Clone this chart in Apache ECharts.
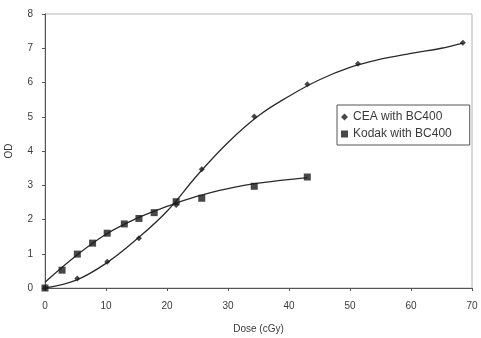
<!DOCTYPE html>
<html>
<head>
<meta charset="utf-8">
<script src="https://cdn.jsdelivr.net/npm/echarts@6/dist/echarts.min.js"></script>
<style>
  html, body { margin: 0; padding: 0; background: #fff; }
  #chart { width: 481px; height: 338px; }
</style>
</head>
<body>
<div id="chart"></div>
<script>
// measured points
const ceaDose = [0, 5.3, 10.2, 15.4, 21.5, 25.7, 34.3, 43, 51.3, 68.5];
const ceaOD = [0, 0.28, 0.77, 1.45, 2.42, 3.47, 5.01, 5.95, 6.55, 7.16];
const kodakDose = [0, 2.8, 5.3, 7.8, 10.2, 13, 15.4, 17.9, 21.5, 25.7, 34.3, 43];
const kodakOD = [0, 0.52, 0.99, 1.31, 1.6, 1.87, 2.03, 2.2, 2.52, 2.62, 2.97, 3.24];

// fitted curves
const ceaFitDose = [0, 5, 10, 15, 20, 25, 30, 35, 40, 45, 50, 55, 60, 65, 68.5];
const ceaFitOD = [0, 0.22, 0.72, 1.42, 2.24, 3.3, 4.25, 5.03, 5.6, 6.08, 6.44, 6.68, 6.85, 7.0, 7.15];
const kodakFitDose = [0, 5, 10, 15, 20, 25, 30, 35, 43];
const kodakFitOD = [0.17, 0.93, 1.57, 2.03, 2.38, 2.68, 2.9, 3.06, 3.22];

const xTicks = [0, 10, 20, 30, 40, 50, 60, 70];
const yTicks = [0, 1, 2, 3, 4, 5, 6, 7, 8];

const pairs = (xs, ys) => xs.map((x, i) => [x, ys[i]]);
const ink = '#1a1a1a';
const textCol = '#3a3a3a';

const chart = echarts.init(document.getElementById('chart'));
chart.setOption({
    animation: false,
    textStyle: { fontFamily: 'Liberation Sans, Arial, sans-serif' },
    grid: {
        left: 45, right: 9, top: 14, bottom: 50,
        outerBoundsMode: 'none',
        show: true, borderColor: '#b5b5b5', borderWidth: 1
    },
    xAxis: {
        type: 'value', min: 0, max: 70, interval: 10,
        name: 'Dose (cGy)', nameLocation: 'middle', nameGap: 36,
        nameTextStyle: { color: textCol, fontSize: 10 },
        axisLine: { lineStyle: { color: '#555', width: 1 } },
        axisTick: { show: true, length: 3, lineStyle: { color: '#555' } },
        axisLabel: { color: textCol, fontSize: 10, margin: 13,
            formatter: v => xTicks.includes(v) ? String(v) : '' },
        splitLine: { show: false }
    },
    yAxis: {
        type: 'value', min: 0, max: 8, interval: 1,
        name: 'OD', nameLocation: 'middle', nameGap: 31, nameRotate: 90,
        nameTextStyle: { color: textCol, fontSize: 10 },
        axisLine: { show: true, lineStyle: { color: '#555', width: 1 } },
        axisTick: { show: true, length: 3, lineStyle: { color: '#555' } },
        axisLabel: { color: textCol, fontSize: 10, margin: 12,
            formatter: v => yTicks.includes(v) ? String(v) : '' },
        splitLine: { show: false }
    },
    legend: {
        orient: 'vertical', left: 337, top: 105,
        padding: [6, 18, 5, 4], itemGap: 5,
        itemWidth: 7, itemHeight: 7,
        borderColor: '#555', borderWidth: 1, backgroundColor: '#fff',
        textStyle: { color: textCol, fontSize: 12 },
        data: [
            { name: 'CEA with BC400', icon: 'diamond' },
            { name: 'Kodak with BC400', icon: 'rect' }
        ]
    },
    series: [
        {
            name: 'CEA fit', type: 'line', smooth: 0.4, showSymbol: false,
            data: pairs(ceaFitDose, ceaFitOD),
            lineStyle: { color: '#2a2a2a', width: 1.3 }, z: 2
        },
        {
            name: 'Kodak fit', type: 'line', smooth: 0.4, showSymbol: false,
            data: pairs(kodakFitDose, kodakFitOD),
            lineStyle: { color: '#2a2a2a', width: 1.3 }, z: 2
        },
        {
            name: 'CEA with BC400', type: 'scatter', symbol: 'diamond', symbolSize: 6,
            data: pairs(ceaDose, ceaOD),
            itemStyle: { color: ink }, z: 3
        },
        {
            name: 'Kodak with BC400', type: 'scatter', symbol: 'rect', symbolSize: 7,
            data: pairs(kodakDose, kodakOD),
            itemStyle: { color: ink }, z: 3
        }
    ]
});
</script>
</body>
</html>
